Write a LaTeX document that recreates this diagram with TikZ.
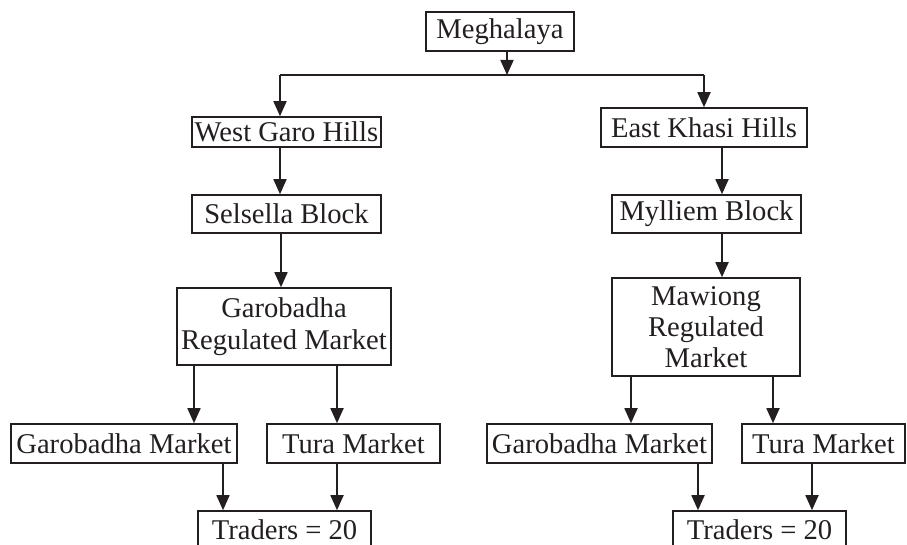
\documentclass[tikz,border=0pt]{standalone}
\usepackage{fontspec}
\setmainfont{Liberation Serif}
\usetikzlibrary{arrows.meta}
\definecolor{ink}{HTML}{231F20}
\begin{document}
\begin{tikzpicture}[x=0.5pt,y=-0.5pt,
  box/.style={draw=ink, text=ink, line width=0.8pt, inner sep=0pt, align=center,
    font=\fontsize{14.3pt}{16pt}\selectfont},
  arr/.style={draw=ink, line width=0.9pt, -{Triangle[width=6.5pt,length=7.5pt]}},
  ln/.style={draw=ink, line width=0.9pt}]
\useasboundingbox (0,0) rectangle (907,545);
\clip (0,0) rectangle (907,545);
\fill[white] (0,0) rectangle (907,545);

% nodes
\node[box, minimum width=74pt, minimum height=19.5pt] (m) at (500,31.5) {Meghalaya};
\node[box, minimum width=94.5pt, minimum height=15pt] (wg) at (286.5,132) {West Garo Hills};
\node[box, minimum width=103pt, minimum height=19.5pt] (ek) at (704,127.5) {East Khasi Hills};
\node[box, minimum width=94.5pt, minimum height=19pt] (sb) at (286.5,214) {Selsella Block};
\node[box, minimum width=94.5pt, minimum height=19pt] (ml) at (706.5,214) {Mylliem Block};
\node[box, minimum width=107pt, minimum height=38.5pt] (grm) at (284,326.5) {Garobadha\\Regulated Market};
\node[box, minimum width=94pt, minimum height=49pt, font=\fontsize{14.3pt}{15.5pt}\selectfont] (mrm) at (706,327) {Mawiong\\Regulated\\Market};
\node[box, minimum width=113pt, minimum height=19.5pt] (gm1) at (124,443.5) {Garobadha Market};
\node[box, minimum width=86.5pt, minimum height=19.5pt] (tm1) at (353.5,443.5) {Tura Market};
\node[box, minimum width=112.5pt, minimum height=19.5pt] (gm2) at (599.5,443.5) {Garobadha Market};
\node[box, minimum width=81.5pt, minimum height=19.5pt] (tm2) at (823.5,443.5) {Tura Market};
\node[box, minimum width=86.5pt, minimum height=19pt] (tr1) at (284.5,530) {Traders = 20};
\node[box, minimum width=86.5pt, minimum height=19pt] (tr2) at (759.5,530) {Traders = 20};

% connector x positions
\coordinate (xm) at (507,75);
\coordinate (xl) at (280,75);
\coordinate (xr) at (704,75);
\coordinate (x1) at (280,0);
\coordinate (x2) at (722,0);
\coordinate (x3) at (281,0);
\coordinate (x4) at (722,0);
\coordinate (x5) at (194,0);
\coordinate (x6) at (337,0);
\coordinate (x7) at (631,0);
\coordinate (x8) at (773,0);
\coordinate (x9) at (223,0);
\coordinate (x10) at (337,0);
\coordinate (x11) at (698,0);
\coordinate (x12) at (812,0);

% connectors
\draw[arr] (m.south -| xm) -- (xm);
\draw[ln] (xl) -- (xr);
\draw[arr] (xl) -- (wg.north -| xl);
\draw[arr] (xr) -- (ek.north -| xr);
\draw[arr] (wg.south -| x1) -- (sb.north -| x1);
\draw[arr] (ek.south -| x2) -- (ml.north -| x2);
\draw[arr] (sb.south -| x3) -- (grm.north -| x3);
\draw[arr] (ml.south -| x4) -- (mrm.north -| x4);
\draw[arr] (grm.south -| x5) -- (gm1.north -| x5);
\draw[arr] (grm.south -| x6) -- (tm1.north -| x6);
\draw[arr] (mrm.south -| x7) -- (gm2.north -| x7);
\draw[arr] (mrm.south -| x8) -- (tm2.north -| x8);
\draw[arr] (gm1.south -| x9) -- (tr1.north -| x9);
\draw[arr] (tm1.south -| x10) -- (tr1.north -| x10);
\draw[arr] (gm2.south -| x11) -- (tr2.north -| x11);
\draw[arr] (tm2.south -| x12) -- (tr2.north -| x12);
\end{tikzpicture}
\end{document}
